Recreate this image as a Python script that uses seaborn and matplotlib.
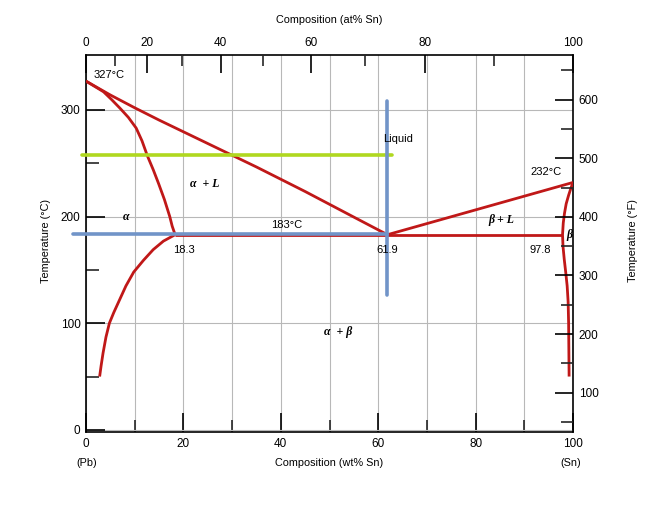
import numpy as np
import pandas as pd
import matplotlib
matplotlib.use("Agg")
import matplotlib.pyplot as plt
import seaborn as sns

# ---------------- data ----------------
# liquidus, alpha side (wt% Sn, deg C)
liq_alpha_wt = [0, 5, 10, 15, 20, 25, 30, 35, 40, 45, 50, 55, 61.9]
liq_alpha_T = [327, 314, 302, 290.5, 279.5, 268.5, 257.5, 246.5, 235, 223.5, 211.5, 199.5, 183]
# solidus, alpha side
sol_alpha_wt = [0, 1.8, 3.6, 5.3, 7.0, 8.7, 10.3, 11.5, 12.6, 13.8, 14.9, 16.1, 17.2, 17.7, 18.3]
sol_alpha_T = [327, 322, 317, 309.5, 301.5, 293, 283, 271, 257, 244, 231, 216, 200, 191, 183]
# solvus, alpha side
solv_alpha_wt = [18.3, 15.9, 13.8, 11.8, 9.8, 8.2, 6.9, 5.7, 4.8, 4.1, 3.5, 3.1, 2.8]
solv_alpha_T = [183, 177, 169, 159, 148, 135, 122, 110, 100, 87, 72, 60, 50]
# liquidus, beta side
liq_beta_wt = [61.9, 100]
liq_beta_T = [183, 232]
# beta solidus / solvus
beta_wt = [100, 99.6, 99.1, 98.6, 98.25, 98.0, 97.85, 97.95, 98.2, 98.5, 98.8, 99.0, 99.1, 99.15, 99.2]
beta_T = [232, 227, 220, 212, 203, 194, 183, 172, 160, 148, 135, 120, 100, 75, 50]
# eutectic isotherm
eut_wt = [18.3, 97.8]
eut_T = [183, 183]
# overlay lines
blue_h_wt = [-2.7, 61.9]
blue_h_T = [183.6, 183.6]
blue_v_wt = [61.8, 61.8]
blue_v_T = [308, 126.5]
green_wt = [-0.9, 62.9]
green_T = [258, 258]

# axis ticks
wt_major = [0, 20, 40, 60, 80, 100]
wt_minor = [10, 30, 50, 70, 90]
at_major = [0, 20, 40, 60, 80, 100]
at_minor = [10, 30, 50, 70, 90]
c_major = [0, 100, 200, 300]
c_minor = [50, 150, 250]
f_major = [100, 200, 300, 400, 500, 600]
f_minor = [50, 150, 250, 350, 450, 550, 650]

M_SN, M_PB = 118.71, 207.2


def at_to_wt(a):
    a = np.asarray(a, dtype=float)
    return 100 * a * M_SN / (a * M_SN + (100 - a) * M_PB)


# ---------------- style ----------------
sns.set_theme(style="white")
plt.rcParams["font.family"] = ["Liberation Sans", "DejaVu Sans"]

RED = "#c01818"
BLUE = "#7194c8"
GREEN = "#b0d820"
GRID = "#b8b8b8"

W, H = 668, 505
fig = plt.figure(figsize=(W / 100, H / 100), dpi=100)
L, R, T, B = 86, 573, 55, 432
ax = fig.add_axes([L / W, 1 - B / H, (R - L) / W, (B - T) / H])

ax.set_xlim(0, 100)
ax.set_ylim(-2, 351.5)
ax.set_xticks(wt_major)
ax.set_xticks(wt_minor, minor=True)
ax.set_yticks(c_major)
ax.set_yticks(c_minor, minor=True)
ax.set_axisbelow(True)
ax.grid(True, axis="x", which="both", color=GRID, lw=0.8)
ax.grid(True, axis="y", which="major", color=GRID, lw=0.8)

for s in ax.spines.values():
    s.set_color("black")
    s.set_linewidth(1.2)

ax.tick_params(axis="both", which="major", direction="in", length=14, width=1.2,
               labelsize=8.5, pad=4, colors="black")
ax.tick_params(axis="both", which="minor", direction="in", length=9, width=1.2)
ax.tick_params(axis="x", top=False, bottom=True, which="both")
ax.tick_params(axis="y", left=True, right=False, which="both")

# ---------------- curves ----------------
curves = [
    (liq_alpha_wt, liq_alpha_T),
    (sol_alpha_wt, sol_alpha_T),
    (solv_alpha_wt, solv_alpha_T),
    (liq_beta_wt, liq_beta_T),
    (beta_wt, beta_T),
    (eut_wt, eut_T),
]
for xs, ys in curves:
    sns.lineplot(x=xs, y=ys, sort=False, estimator=None, color=RED, lw=2.0,
                 ax=ax, zorder=3, solid_joinstyle="round", solid_capstyle="butt")

sns.lineplot(x=green_wt, y=green_T, sort=False, estimator=None, color=GREEN,
             lw=2.6, ax=ax, zorder=4, clip_on=False)
sns.lineplot(x=blue_h_wt, y=blue_h_T, sort=False, estimator=None, color=BLUE,
             lw=2.6, ax=ax, zorder=5, clip_on=False)
sns.lineplot(x=blue_v_wt, y=blue_v_T, sort=False, estimator=None, color=BLUE,
             lw=2.6, ax=ax, zorder=5)

# ---------------- annotations ----------------
tk = dict(fontsize=8, color="black", zorder=6)
ax.text(1.5, 332.5, "327°C", ha="left", va="center", **tk)
ax.text(41.3, 192, "183°C", ha="center", va="center", **tk)
ax.text(20.1, 168.7, "18.3", ha="center", va="center", **tk)
ax.text(61.9, 168.7, "61.9", ha="center", va="center", **tk)
ax.text(64.1, 272.5, "Liquid", ha="center", va="center", **tk)
ax.text(94.4, 241.6, "232°C", ha="center", va="center", **tk)
ax.text(93.2, 168.7, "97.8", ha="center", va="center", **tk)

gk = dict(fontsize=8.5, color="black", family=["Liberation Serif", "DejaVu Serif"],
          style="italic", fontweight="bold", zorder=6)
ax.text(24.4, 231, "α  + L", ha="center", va="center", **gk)
ax.text(8.15, 199.4, "α", ha="center", va="center", **gk)
ax.text(85.3, 196.9, "β + L", ha="center", va="center", **gk)
ax.text(99.2, 182.8, "β", ha="center", va="center", **gk)
ax.text(51.7, 92, "α  + β", ha="center", va="center", **gk)

ax.set_xlabel("")
ax.set_ylabel("")

# ---------------- right axis (deg F) ----------------
ax2 = ax.twinx()
ax2.set_ylim(33, 676)
ax2.set_yticks(f_major)
ax2.set_yticks(f_minor, minor=True)
ax2.grid(False)
ax2.tick_params(axis="y", which="major", direction="in", length=13, width=1.2,
                labelsize=8.5, pad=4, right=True, left=False, colors="black")
ax2.tick_params(axis="y", which="minor", direction="in", length=9, width=1.2,
                right=True, left=False)
for s in ax2.spines.values():
    s.set_visible(False)

# ---------------- top axis (at% Sn) ----------------
ax3 = ax.twiny()
ax3.set_xlim(0, 100)
ax3.set_xticks(at_to_wt(at_major))
ax3.set_xticklabels([str(a) for a in at_major])
ax3.set_xticks(at_to_wt(at_minor), minor=True)
ax3.grid(False)
ax3.tick_params(axis="x", which="major", direction="in", length=13, width=1.2,
                labelsize=8.5, pad=4, top=True, bottom=False, colors="black")
ax3.tick_params(axis="x", which="minor", direction="in", length=8, width=1.2,
                top=True, bottom=False)
for s in ax3.spines.values():
    s.set_visible(False)

# ---------------- axis titles ----------------
lk = dict(fontsize=7.8, color="black")
fig.text(329.5 / W, 1 - 20 / H, "Composition (at% Sn)", ha="center", va="center", **lk)
fig.text(329.5 / W, 1 - 463 / H, "Composition (wt% Sn)", ha="center", va="center", **lk)
fig.text(87 / W, 1 - 463 / H, "(Pb)", ha="center", va="center", **lk)
fig.text(571 / W, 1 - 463 / H, "(Sn)", ha="center", va="center", **lk)
fig.text(46.5 / W, 1 - 241 / H, "Temperature (°C)", ha="center", va="center",
         rotation=90, **lk)
fig.text(633 / W, 1 - 241 / H, "Temperature (°F)", ha="center", va="center",
         rotation=90, **lk)

fig.savefig("out.png", dpi=100)
